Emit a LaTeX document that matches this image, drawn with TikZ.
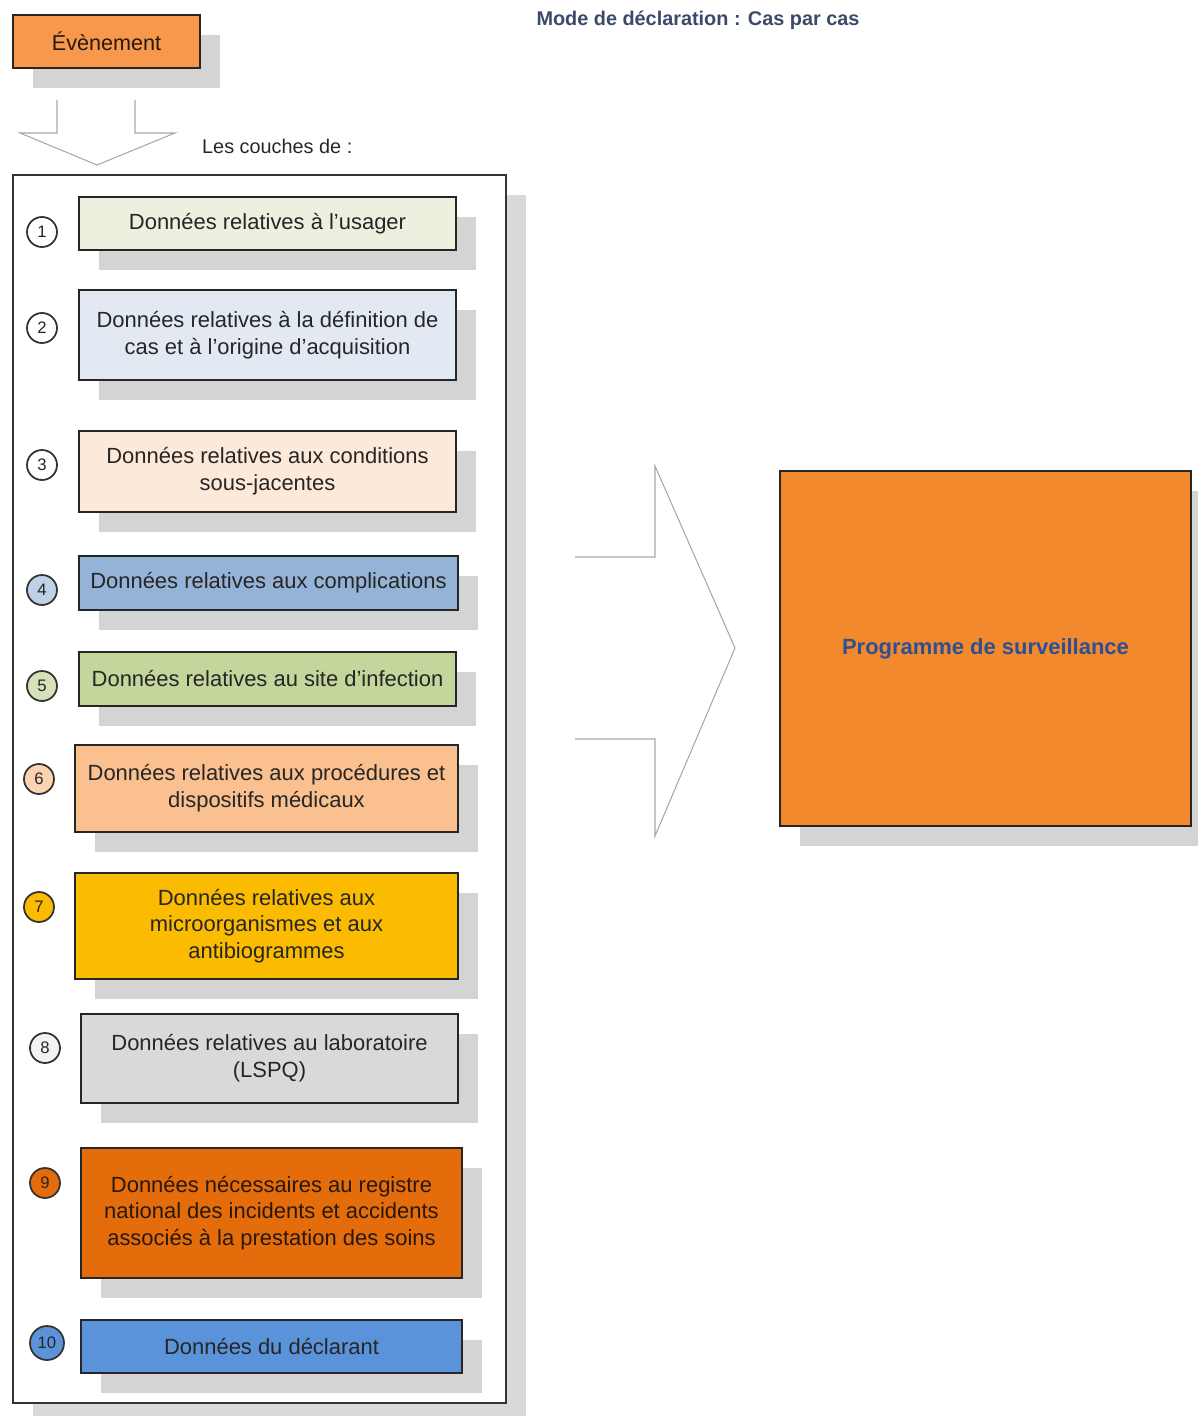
\documentclass[tikz,border=0pt]{standalone}
\usepackage{fontspec}
\setmainfont{Liberation Sans}
\usetikzlibrary{shadows}
\definecolor{cEvt}{HTML}{F7984C}
\definecolor{cOne}{HTML}{EBF1DE}
\definecolor{cTwo}{HTML}{E3E9F3}
\definecolor{cThree}{HTML}{FDE9D9}
\definecolor{cFour}{HTML}{95B3D7}
\definecolor{cFive}{HTML}{C3D69B}
\definecolor{cSix}{HTML}{FAC090}
\definecolor{cSeven}{HTML}{FABB00}
\definecolor{cEight}{HTML}{D9D9D9}
\definecolor{cNine}{HTML}{E46C0A}
\definecolor{cTen}{HTML}{5B93DA}
\definecolor{cProg}{HTML}{F2892C}
\definecolor{cProgTxt}{HTML}{2F4F93}
\definecolor{cTitle}{HTML}{3C4A6A}
\definecolor{cArrow}{HTML}{A8A8A8}
\definecolor{cShadow}{HTML}{D4D4D4}
\begin{document}
\begin{tikzpicture}[x=0.02cm,y=-0.02cm,
  layer/.style={draw=black!85, line width=0.9pt, align=center,
    font=\fontsize{12.5}{15.2}\selectfont, text=black!85, inner sep=2pt,
    drop shadow={shadow xshift=0.4cm, shadow yshift=-0.4cm, fill=cShadow, opacity=1}},
  num/.style={circle, draw=black!80, line width=1pt, minimum size=0.6cm,
    inner sep=0pt, font=\fontsize{9.5}{11}\selectfont, text=black!85},
  blockarrow/.style={draw=cArrow, line width=0.6pt}]
\useasboundingbox (0,0) rectangle (1197,1416);

% title
\node[font=\bfseries\fontsize{11.3}{13}\selectfont, text=cTitle] (title) at (698,20) {Mode de déclaration : Cas par cas};

% event
\node[layer, fill=cEvt, minimum width=3.74cm, minimum height=1.06cm,
  font=\fontsize{12.3}{14}\selectfont, text=black!80!brown] (evt) at (106.5,41.5) {Évènement};

% down block arrow
\coordinate (dl) at (57,100);
\coordinate (dr) at (135,100);
\draw[blockarrow] (dl) -- (57,133) -- (20,133) -- (97,165) -- (175,133) -- (135,133) -- (dr);
\node[anchor=west, font=\fontsize{11.3}{13}\selectfont, text=black!85] (couches) at (196,146) {Les couches de :};

% container
\node[draw=black!80, line width=0.8pt, fill=white, minimum width=9.86cm, minimum height=24.56cm,
  drop shadow={shadow xshift=0.4cm, shadow yshift=-0.4cm, fill=black!15, opacity=1}] (cont) at (259.5,789) {};

% layers
\node[layer, fill=cOne, minimum width=7.54cm, minimum height=1.06cm] (b1) at (267.5,223.5) {Données relatives à l’usager};
\node[layer, fill=cTwo, minimum width=7.54cm, minimum height=1.8cm] (b2) at (267.5,335) {Données relatives à la définition de\\cas et à l’origine d’acquisition};
\node[layer, fill=cThree, minimum width=7.54cm, minimum height=1.62cm] (b3) at (267.5,471.5) {Données relatives aux conditions\\sous-jacentes};
\node[layer, fill=cFour, minimum width=7.58cm, minimum height=1.08cm] (b4) at (268.5,583) {Données relatives aux complications};
\node[layer, fill=cFive, minimum width=7.54cm, minimum height=1.08cm] (b5) at (267.5,679) {Données relatives au site d’infection};
\node[layer, fill=cSix, minimum width=7.66cm, minimum height=1.74cm] (b6) at (266.5,788.5) {Données relatives aux procédures et\\dispositifs médicaux};
\node[layer, fill=cSeven, minimum width=7.66cm, minimum height=2.12cm] (b7) at (266.5,926) {Données relatives aux\\microorganismes et aux\\antibiogrammes};
\node[layer, fill=cEight, minimum width=7.54cm, minimum height=1.78cm] (b8) at (269.5,1058.5) {Données relatives au laboratoire\\(LSPQ)};
\node[layer, fill=cNine, minimum width=7.62cm, minimum height=2.6cm, text=black!80!brown] (b9) at (271.5,1213) {Données nécessaires au registre\\national des incidents et accidents\\associés à la prestation des soins};
\node[layer, fill=cTen, minimum width=7.62cm, minimum height=1.06cm] (b10) at (271.5,1346.5) {Données du déclarant};

% numbers
\node[num, fill=white] (n1) at (42,232) {1};
\node[num, fill=white] (n2) at (42,328) {2};
\node[num, fill=white] (n3) at (42,465) {3};
\node[num, fill=cFour!60] (n4) at (42,590) {4};
\node[num, fill=cFive!70] (n5) at (42,686) {5};
\node[num, fill=cSix!70] (n6) at (39,779) {6};
\node[num, fill=cSeven] (n7) at (39,907) {7};
\node[num, fill=black!5] (n8) at (45,1048) {8};
\node[num, fill=cNine] (n9) at (45,1183) {9};
\node[num, fill=cTen, minimum size=0.68cm] (n10) at (47,1343) {10};

% right block arrow
\coordinate (ra) at (575,557);
\coordinate (rb) at (575,739);
\draw[blockarrow] (ra) -- (655,557) -- (655,466) -- (735,648) -- (655,836) -- (655,739) -- (rb);

% programme
\node[layer, fill=cProg, minimum width=8.22cm, minimum height=7.1cm,
  font=\bfseries\fontsize{12.5}{15}\selectfont, text=cProgTxt] (prog) at (985.5,648.5) {Programme de surveillance};
\end{tikzpicture}
\end{document}
